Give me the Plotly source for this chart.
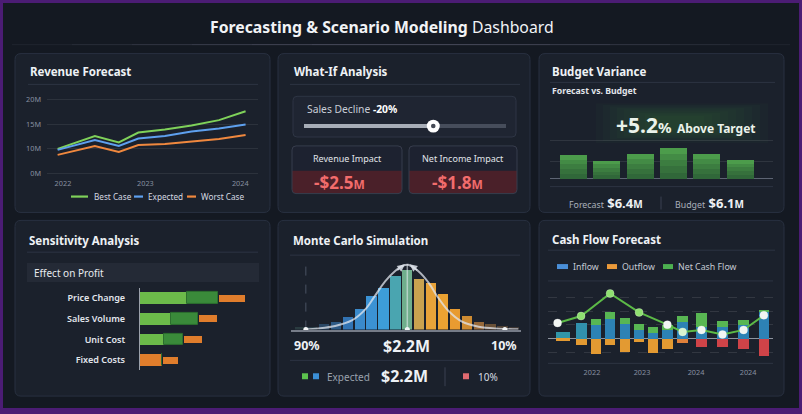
import plotly.graph_objects as go

W, H = 802, 414
FONT = "Noto Sans, Open Sans, DejaVu Sans, sans-serif"

# ---------------- data ----------------
rev_x = [2021.94, 2022.36, 2022.63, 2022.85, 2023.15, 2023.45, 2023.76, 2024.06]
rev_best = [10.0, 12.6, 11.3, 13.3, 13.9, 14.7, 15.8, 17.6]
rev_expected = [9.8, 11.8, 10.6, 12.1, 12.6, 13.5, 14.1, 14.9]
rev_worst = [8.8, 10.6, 9.4, 10.8, 11.0, 11.5, 12.0, 12.8]
rev_ytick_vals = [5, 10, 15, 20]
rev_ytick_text = ["0M", "10M", "15M", "20M"]
rev_xtick_vals = [2022, 2022.93, 2024]
rev_xtick_text = ["2022", "2023", "2024"]
rev_series = ["Best Case", "Expected", "Worst Case"]

whatif_label = "Sales Decline"
whatif_value = "-20%"
slider_fraction = 0.64
impact_labels = ["Revenue Impact", "Net Income Impact"]
impact_values = ["-$2.5", "-$1.8"]

budget_months = ["Jan", "Feb", "Mar", "Apr", "May", "Jun"]
budget_forecast = [1.08, 0.81, 1.13, 1.40, 1.13, 0.86]
budget_gridvals = [0.8, 1.75]
variance_pct = "+5.2"
forecast_total = "$6.4"
budget_total = "$6.1"

sens_factors = ["Price Change", "Sales Volume", "Unit Cost", "Fixed Costs"]
sens_primary = [4.7, 3.1, 2.4, 2.2]
sens_secondary = [3.1, 2.7, 1.9, 0.0]
sens_downside = [2.6, 1.8, 1.8, 1.5]

mc_bins = [0.85, 1.00, 1.15, 1.30, 1.45, 1.60, 1.75, 1.90, 2.05, 2.20,
           2.35, 2.50, 2.65, 2.80, 2.95, 3.10, 3.25, 3.40, 3.55]
mc_counts = [11, 11, 23, 32, 52, 86, 140, 175, 222, 250,
             213, 195, 147, 86, 58, 34, 23, 16, 11]
mc_curve_x = [0.91, 1.08, 1.29, 1.50, 1.67, 1.79, 1.92, 2.05, 2.15,
              2.21, 2.34, 2.47, 2.59, 2.72, 2.89, 3.10, 3.35, 3.60]
mc_curve_y = [1, 5, 15, 38, 84, 139, 200, 244, 266,
              269, 242, 194, 132, 77, 33, 12, 4, 1]
mc_p90, mc_expected, mc_p10 = 0.92, 2.2, 3.43

cf_x = [0, 1.25, 2.3, 3.25, 4.3, 5.25, 6.2, 7.2, 8.25, 9.55, 11.0, 12.45, 13.85]
cf_inflow = [52, 112, 98, 141, 107, 66, 41, 66, 121, 86, 86, 102, 195]
cf_cap = [0, 0, 45, 55, 45, 43, 41, 36, 45, 100, 41, 31, 14]
cf_outflow = [-14, -43, -105, -45, -91, -19, -102, -69, -29, -55, -55, -74, -124]
cf_net_x = [-0.37, 1.25, 3.25, 5.25, 7.2, 8.25, 9.55, 11.0, 12.45, 13.85]
cf_net = [114, 164, 326, 190, 102, 50, 64, 31, 64, 169]
cf_tick_vals = [2.0, 5.45, 9.17, 12.76]
cf_tick_text = ["2022", "2023", "2024", "2024"]

# ---------------- colours ----------------
BG = "#141922"
PANEL = "#1b212c"
PANEL_LINE = "#283040"
DIV = "#2d3443"
TXT = "#eef1f5"
MUTED = "#8a93a3"
GRID = "rgba(255,255,255,0.08)"
GREEN = "#7fd15a"
BLUE = "#5ea0ef"
ORANGE = "#f0883e"


def X(p):
    return p / W


def Y(p):
    return 1 - p / H


shapes = []
annotations = []


def rrect(x0, y0, x1, y1, r, fill, line=None, lw=1, layer="below"):
    p = (f"M {X(x0+r)},{Y(y0)} L {X(x1-r)},{Y(y0)} Q {X(x1)},{Y(y0)} {X(x1)},{Y(y0+r)} "
         f"L {X(x1)},{Y(y1-r)} Q {X(x1)},{Y(y1)} {X(x1-r)},{Y(y1)} "
         f"L {X(x0+r)},{Y(y1)} Q {X(x0)},{Y(y1)} {X(x0)},{Y(y1-r)} "
         f"L {X(x0)},{Y(y0+r)} Q {X(x0)},{Y(y0)} {X(x0+r)},{Y(y0)} Z")
    shapes.append(dict(type="path", xref="paper", yref="paper", path=p,
                       fillcolor=fill, line=dict(color=line or "rgba(0,0,0,0)", width=lw if line else 0),
                       layer=layer))


def toprrect(x0, y0, x1, y1, r, fill, layer="below"):
    p = (f"M {X(x0+r)},{Y(y0)} L {X(x1-r)},{Y(y0)} Q {X(x1)},{Y(y0)} {X(x1)},{Y(y0+r)} "
         f"L {X(x1)},{Y(y1)} L {X(x0)},{Y(y1)} L {X(x0)},{Y(y0+r)} Q {X(x0)},{Y(y0)} {X(x0+r)},{Y(y0)} Z")
    shapes.append(dict(type="path", xref="paper", yref="paper", path=p,
                       fillcolor=fill, line=dict(width=0), layer=layer))


def rect(x0, y0, x1, y1, fill, layer="below"):
    shapes.append(dict(type="rect", xref="paper", yref="paper", x0=X(x0), x1=X(x1),
                       y0=Y(y1), y1=Y(y0), fillcolor=fill, line=dict(width=0), layer=layer))


def hline(x0, x1, y, color, width=1, dash="solid", layer="below"):
    shapes.append(dict(type="line", xref="paper", yref="paper", x0=X(x0), x1=X(x1),
                       y0=Y(y), y1=Y(y), line=dict(color=color, width=width, dash=dash), layer=layer))


def vline(x, y0, y1, color, width=1, layer="below"):
    shapes.append(dict(type="line", xref="paper", yref="paper", x0=X(x), x1=X(x),
                       y0=Y(y0), y1=Y(y1), line=dict(color=color, width=width), layer=layer))


def circle(cx, cy, r, fill, layer="above"):
    shapes.append(dict(type="circle", xref="paper", yref="paper", x0=X(cx-r), x1=X(cx+r),
                       y0=Y(cy+r), y1=Y(cy-r), fillcolor=fill, line=dict(width=0), layer=layer))


def text(x, y, s, size, color=TXT, bold=False, xanchor="left", yanchor="middle"):
    if bold:
        s = f"<b>{s}</b>"
    annotations.append(dict(x=X(x), y=Y(y), xref="paper", yref="paper", text=s,
                            showarrow=False, xanchor=xanchor, yanchor=yanchor,
                            font=dict(family=FONT, size=size, color=color)))


# ---------------- frame & title ----------------
shapes.append(dict(type="rect", xref="paper", yref="paper", x0=0, x1=1, y0=0, y1=1,
                   line=dict(color="#4b1c74", width=6), fillcolor="rgba(0,0,0,0)", layer="above"))
text(382, 27, "<b>Forecasting &amp; Scenario Modeling</b> Dashboard", 15.8, "#f1f3f6", xanchor="center")
for i in range(6):
    hline(12 + i * 60, 790 - i * 60, 45, "rgba(150,160,180,0.09)", 1)

panels = [(15, 54, 270, 214), (278, 54, 530, 214), (539, 54, 784, 214),
          (15, 222, 270, 399), (278, 222, 530, 399), (539, 222, 784, 399)]
for (a, b, c, d) in panels:
    rrect(a, b, c, d, 6, PANEL, PANEL_LINE, 1)

# ---------------- panel 1: revenue forecast ----------------
text(28, 72, "Revenue Forecast", 11.5, TXT, bold=True)
hline(28, 258, 85, DIV)
legend_items = [(71, 88, GREEN, 92), (134, 143, BLUE, 146), (187, 196, ORANGE, 199)]
for (l0, l1, col, tx), name in zip(legend_items, rev_series):
    hline(l0, l1, 198, col, 2.2, layer="above")
    text(tx, 198, name, 8.2, "#d4d8e0")

# ---------------- panel 2: what-if ----------------
text(292, 72, "What-If Analysis", 11.5, TXT, bold=True)
hline(290, 520, 85, DIV)
rrect(293, 97, 516, 138, 4, "#1f2532", "#2e3544", 1)
text(305, 110, f"{whatif_label} <b><span style='color:#ffffff'>{whatif_value}</span></b>", 10.3, "#c8cdd6")
t0, t1 = 304, 506
knob = t0 + slider_fraction * (t1 - t0)
hline(t0, t1, 127, "#464d5b", 4, layer="above")
hline(t0, knob, 127, "#a7adb7", 4, layer="above")
circle(knob, 127, 6.5, "#ffffff")
circle(knob, 127, 2.3, "#454a55")
for (bx0, bx1, vx), lab, val in zip([(292, 402, 312), (409, 517, 430)], impact_labels, impact_values):
    rrect(bx0, 147, bx1, 195, 4, "#4a2029")
    toprrect(bx0, 147, bx1, 172, 4, "#1d2230")
    rrect(bx0, 147, bx1, 195, 4, "rgba(0,0,0,0)", "#363d4d", 1)
    text((bx0 + bx1) / 2, 160, lab, 9, "#e0e4ea", xanchor="center")
    text(vx, 183.5, f"<b>{val}<span style='font-size:12px'>M</span></b>", 17, "#f26c6c")

# ---------------- panel 3: budget variance ----------------
text(550, 72, "Budget Variance", 11.5, TXT, bold=True)
hline(550, 775, 83, DIV)
text(550, 92, "Forecast vs. Budget", 8.7, "#e2e5ea", bold=True)
for i in range(9):
    rect(596 + i * 7, 104 + i * 1.6, 768 - i * 8, 144 - i * 1.6, "rgba(60,145,75,0.045)")
text(686, 126, f"<b>{variance_pct}</b><span style='font-size:15px'><b>%</b></span> "
     f"<span style='font-size:12px'><b>Above Target</b></span>", 21, "#eaf2ea", xanchor="center")
hline(550, 773, 188, DIV)
text(606, 204, f"<span style='font-size:8.8px;color:#aab0bb'>Forecast</span> "
     f"<b>{forecast_total}<span style='font-size:10px'>M</span></b>", 13, TXT, xanchor="center")
vline(661, 198, 211, "#3a4150")
text(709, 204, f"<span style='font-size:8.8px;color:#aab0bb'>Budget</span> "
     f"<b>{budget_total}<span style='font-size:10px'>M</span></b>", 13, TXT, xanchor="center")

# ---------------- panel 4: sensitivity ----------------
text(27, 242, "Sensitivity Analysis", 11.5, TXT, bold=True)
hline(27, 258, 254, DIV)
rect(27, 265, 259, 284, "#242a36")
text(32, 275, "Effect on Profit", 10, "#e8ebef")

# ---------------- panel 5: monte carlo ----------------
text(291, 242, "Monte Carlo Simulation", 11.5, TXT, bold=True)
hline(290, 520, 257, DIV)
text(307, 348.5, "90%", 12.5, TXT, bold=True, xanchor="center")
text(406, 348.5, "$2.2M", 16, TXT, bold=True, xanchor="center")
text(504, 348.5, "10%", 12.5, TXT, bold=True, xanchor="center")
hline(290, 520, 363, DIV)
rect(302, 376, 308, 382, "#5cc24e", layer="above")
rect(313, 376, 319, 382, "#3b8fd6", layer="above")
text(325, 380, "Expected", 10, "#9aa1ad")
text(404, 379, "$2.2M", 16, TXT, bold=True, xanchor="center")
vline(445, 370, 389, "#3a4150")
rect(463, 376, 469, 382, "#e06a70", layer="above")
text(476, 380, "10%", 10, "#d8dce3")

# ---------------- panel 6: cash flow ----------------
text(550, 241, "Cash Flow Forecast", 11.5, TXT, bold=True)
hline(548, 775, 252, DIV)
for (lx0, lx1, col, tx), name in zip([(557, 568, "#4a8fd8", 571), (607, 617, "#eb9a3a", 620),
                                      (663, 673, "#4cb050", 676)],
                                     ["Inflow", "Outflow", "Net Cash Flow"]):
    rect(lx0, 266, lx1, 271, col, layer="above")
    text(tx, 268.5, name, 8.8, "#c5cad3")
hline(548, 773, 283, DIV)
hline(548, 773, 366, DIV)

# ---------------- traces ----------------
fig = go.Figure()

# revenue lines
for ys, col, name in zip([rev_best, rev_expected, rev_worst], [GREEN, BLUE, ORANGE], rev_series):
    fig.add_trace(go.Scatter(x=rev_x, y=ys, mode="lines", name=name, showlegend=False,
                             line=dict(color=col, width=2), xaxis="x", yaxis="y"))

# budget bars (with shading layers)
fig.add_trace(go.Bar(x=budget_months, y=budget_forecast, marker_color="#4c9c4b", width=0.81,
                     marker_line_width=0, showlegend=False, xaxis="x2", yaxis="y2"))
for k in [0.8, 0.6, 0.4, 0.2]:
    fig.add_trace(go.Bar(x=budget_months, y=[v * k for v in budget_forecast], width=0.81,
                         marker_color="rgba(18,50,38,0.15)", marker_line_width=0,
                         showlegend=False, xaxis="x2", yaxis="y2"))

# sensitivity bars
prim_colors = ["#6cba4a", "#6cba4a", "#6cba4a", "#e07d2c"]
fig.add_trace(go.Bar(y=sens_factors, x=sens_primary, base=[0] * 4, orientation="h", width=0.58,
                     marker_color=prim_colors, marker_line_width=0, showlegend=False,
                     xaxis="x3", yaxis="y3"))
fig.add_trace(go.Bar(y=sens_factors, x=sens_secondary, base=sens_primary, orientation="h", width=0.58,
                     marker_color="#3a8a3a", marker_line=dict(color="#2c6e2e", width=1),
                     showlegend=False, xaxis="x3", yaxis="y3"))
down_base = [p + s + 0.12 for p, s in zip(sens_primary, sens_secondary)]
fig.add_trace(go.Bar(y=sens_factors, x=sens_downside, base=down_base, orientation="h", width=0.34,
                     marker_color="#e07d2c", marker_line_width=0, showlegend=False,
                     xaxis="x3", yaxis="y3"))

# monte carlo
mc_colors = ["#2a3b40", "#2a3d48", "#2b4866", "#2e5a86", "#3273b3", "#3a8acb", "#3b92d4",
             "#3d9dd8", "#4aa5b0", "#6fae8c", "#c9a24f", "#e8a339", "#eba232", "#e89b31",
             "#cf8c32", "#97693a", "#6a5138", "#4e4136", "#3d3634"]
fig.add_trace(go.Bar(x=mc_bins, y=mc_counts, width=0.13, marker_color=mc_colors,
                     marker_line_width=0, showlegend=False, xaxis="x4", yaxis="y4"))
fig.add_trace(go.Scatter(x=mc_curve_x, y=mc_curve_y, mode="lines", line=dict(color="rgba(225,230,238,0.75)",
                         width=2, shape="spline"), showlegend=False, xaxis="x4", yaxis="y4"))
fig.add_trace(go.Scatter(x=[mc_p90, mc_expected, mc_p10], y=[0, 0, 0], mode="markers",
                         marker=dict(color="#f4f6f8", size=5), cliponaxis=False,
                         showlegend=False, xaxis="x4", yaxis="y4"))
shapes.append(dict(type="line", xref="x4", yref="y4", x0=mc_expected, x1=mc_expected, y0=0, y1=272,
                   line=dict(color="rgba(235,240,245,0.55)", width=1.5), layer="above"))
shapes.append(dict(type="line", xref="x4", yref="y4", x0=mc_p90, x1=mc_p90, y0=0, y1=272,
                   line=dict(color="#4a5263", width=1, dash="dash"), layer="below"))
for xa, axo in [(2.17, -9), (2.23, 9)]:
    annotations.append(dict(x=xa, y=271, xref="x4", yref="y4", ax=axo, ay=7, text="",
                            showarrow=True, arrowhead=2, arrowsize=1, arrowwidth=1.5,
                            arrowcolor="rgba(225,230,238,0.85)"))

# cash flow
cf_w = [0.95, 0.76] + [0.71] * 11
in_colors = ["#3296a8", "#3191ad"] + ["#2d82b5"] * 11
out_colors = ["#e39a32"] * 8 + ["#e0803a"] + ["#cf4348"] * 4
fig.add_trace(go.Bar(x=cf_x, y=cf_inflow, base=[0] * 13, width=cf_w, marker_color=in_colors,
                     marker_line_width=0, showlegend=False, xaxis="x5", yaxis="y5"))
fig.add_trace(go.Bar(x=cf_x, y=cf_cap, base=cf_inflow, width=cf_w, marker_color="#58b653",
                     marker_line_width=0, showlegend=False, xaxis="x5", yaxis="y5"))
fig.add_trace(go.Bar(x=cf_x, y=cf_outflow, base=[0] * 13, width=cf_w, marker_color=out_colors,
                     marker_line_width=0, showlegend=False, xaxis="x5", yaxis="y5"))
net_colors = ["#f2f5f2", "#8fe070", "#8fe070", "#8fe070", "#f2f5f2", "#d8f5d0",
              "#f2f5f2", "#f2f5f2", "#f2f5f2", "#f2f5f2"]
fig.add_trace(go.Scatter(x=cf_net_x, y=cf_net, mode="lines+markers",
                         line=dict(color="#5cba47", width=2),
                         marker=dict(size=8, color=net_colors, line=dict(color="rgba(255,255,255,0.25)", width=1)),
                         cliponaxis=False, showlegend=False, xaxis="x5", yaxis="y5"))

# ---------------- axes ----------------
tickfont = dict(family=FONT, size=7.3, color="#8790a0")
base_ax = dict(showline=False, zeroline=False, ticks="", fixedrange=True)

layout_axes = dict(
    xaxis=dict(base_ax, domain=[X(47), X(258)], range=[2021.82, 2024.20], showgrid=False,
               tickvals=rev_xtick_vals, ticktext=rev_xtick_text, tickfont=tickfont,
               anchor="y", ticklabelstandoff=2),
    yaxis=dict(base_ax, domain=[Y(177), Y(95)], range=[4.6, 21], showgrid=True, gridcolor=GRID,
               tickvals=rev_ytick_vals, ticktext=rev_ytick_text, tickfont=tickfont,
               anchor="x", ticklabelstandoff=5),
    xaxis2=dict(base_ax, domain=[X(550), X(773)], range=[-0.71, 5.99], showgrid=False,
                showticklabels=False, anchor="y2"),
    yaxis2=dict(base_ax, domain=[Y(182), Y(138)], range=[-0.09, 1.89], showgrid=True,
                gridcolor="rgba(255,255,255,0.09)", tickvals=budget_gridvals, showticklabels=False,
                zeroline=True, zerolinecolor="#5d6473", zerolinewidth=1.2, anchor="x2"),
    xaxis3=dict(base_ax, domain=[X(140), X(258)], range=[0, 11.8], showgrid=False,
                showticklabels=False, anchor="y3"),
    yaxis3=dict(base_ax, domain=[Y(373), Y(290)], range=[3.5, -0.5], showgrid=False,
                type="category", categoryorder="array", categoryarray=sens_factors,
                showline=True, linecolor="#9aa0aa", linewidth=1.3,
                tickfont=dict(family=FONT, size=9, color="#e2e6ec", weight=600),
                ticklabelstandoff=12, anchor="x3"),
    xaxis4=dict(base_ax, domain=[X(291), X(521)], range=[0.733, 3.634], showgrid=False,
                showticklabels=False, showline=True, linecolor="#767c88", linewidth=1.5, anchor="y4"),
    yaxis4=dict(base_ax, domain=[Y(332), Y(261.6)], range=[0, 290], showgrid=False,
                showticklabels=False, anchor="x4"),
    xaxis5=dict(base_ax, domain=[X(548), X(773)], range=[-1.03, 14.48], showgrid=False,
                tickvals=cf_tick_vals, ticktext=cf_tick_text, tickfont=tickfont,
                ticklabelstandoff=3, anchor="y5"),
    yaxis5=dict(base_ax, domain=[Y(366), Y(283)], range=[-176, 416], showgrid=True,
                gridcolor="rgba(255,255,255,0.10)", griddash="dash", tickvals=[-100, 100, 200, 300],
                showticklabels=False, zeroline=True, zerolinecolor="#8d939e", zerolinewidth=1.3,
                anchor="x5"),
)

fig.update_layout(
    width=W, height=H, margin=dict(l=0, r=0, t=0, b=0),
    paper_bgcolor=BG, plot_bgcolor="rgba(0,0,0,0)",
    font=dict(family=FONT, color=TXT),
    barmode="overlay", bargap=0, hovermode=False, showlegend=False,
    shapes=shapes, annotations=annotations,
    **layout_axes,
)

fig.write_html("out.html", config={"displayModeBar": False})
